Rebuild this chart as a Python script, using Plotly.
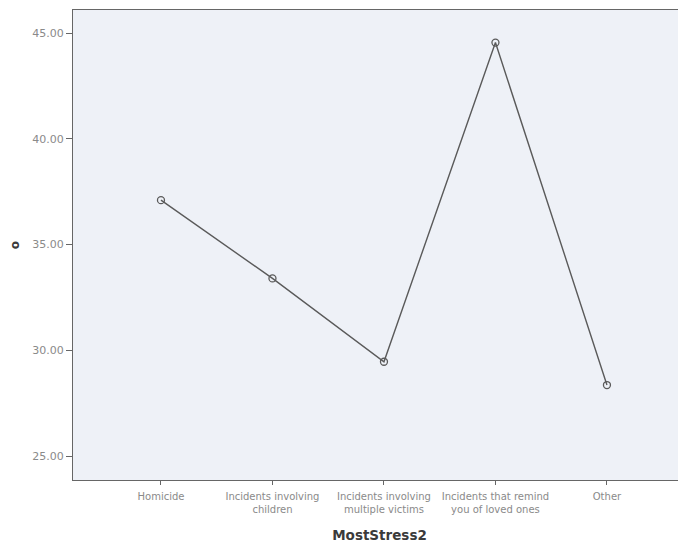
import plotly.graph_objects as go

categories = ["Homicide", "Incidents involving<br>children", "Incidents involving<br>multiple victims",
              "Incidents that remind<br>you of loved ones", "Other"]
values = [37.1, 33.4, 29.46, 44.55, 28.36]
y_ticks = [25, 30, 35, 40, 45]

fig = go.Figure()
fig.add_trace(go.Scatter(
    x=list(range(len(categories))), y=values, mode="lines+markers",
    line=dict(color="#5a5a5a", width=1.4),
    marker=dict(symbol="circle-open", size=7, color="#5a5a5a", line=dict(width=1.3)),
    showlegend=False, hoverinfo="skip"))

fig.update_layout(
    width=678, height=538,
    margin=dict(l=65, r=0, t=2, b=66),
    paper_bgcolor="white", plot_bgcolor="#eef1f7",
    font=dict(family="DejaVu Sans", color="#8a8a8a", size=10),
    xaxis=dict(
        range=[-0.789, 4.709], tickvals=list(range(len(categories))), ticktext=categories,
        showgrid=False, zeroline=False, showline=True, linecolor="#666666", linewidth=1,
        mirror=True, ticks="outside", ticklen=4, tickcolor="#666666",
        ticklabelstandoff=3,
        tickfont=dict(size=10, color="#8a8a8a"),
        title=dict(text="<b>MostStress2</b>", font=dict(size=13.5, color="#3a3a3a"), standoff=16)),
    yaxis=dict(
        range=[23.87, 46.09], tickvals=y_ticks, tickformat=".2f",
        showgrid=False, zeroline=False, showline=True, linecolor="#666666", linewidth=1,
        mirror=False, ticks="outside", ticklen=6, tickcolor="#666666",
        tickfont=dict(size=11, color="#8a8a8a"),
        title=dict(text="<b>o</b>", font=dict(size=12, color="#3a3a3a"), standoff=12)),
)

fig.write_html("out.html")
